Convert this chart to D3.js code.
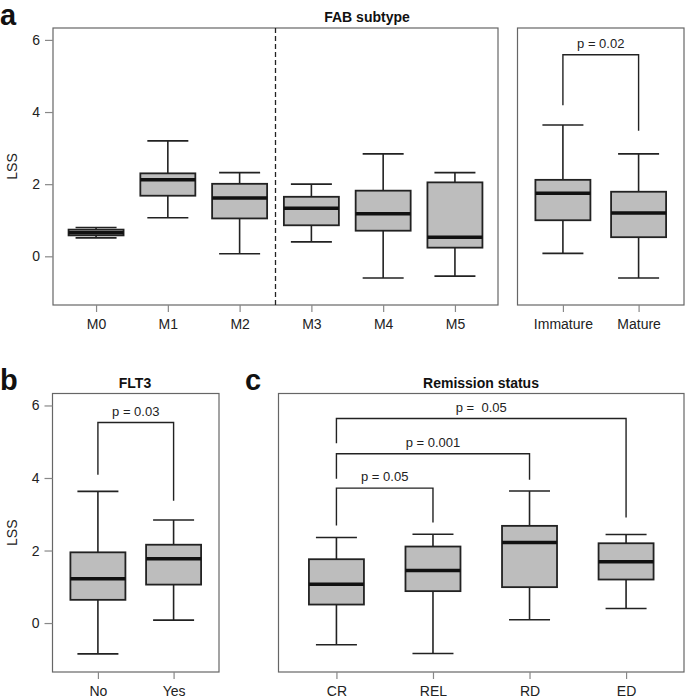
<!DOCTYPE html>
<html>
<head>
<meta charset="utf-8">
<script src="https://cdn.jsdelivr.net/npm/d3@7"></script>
<style>
  html, body { margin: 0; padding: 0; background: #fff; }
  svg { display: block; font-family: "Liberation Sans", Arial, Helvetica, sans-serif; }
</style>
</head>
<body>
<svg id="chart" width="685" height="699"></svg>
<script>
// ---------------- DATA ----------------
// Each box: [lowWhisker, q1, median, q3, highWhisker]
const fabCategories = ["M0", "M1", "M2", "M3", "M4", "M5"];
const fabStats = [
  [0.51, 0.58, 0.65, 0.74, 0.80],
  [1.07, 1.68, 2.12, 2.30, 3.20],
  [0.07, 1.05, 1.62, 2.01, 2.32],
  [0.40, 0.86, 1.33, 1.65, 2.00],
  [-0.60, 0.71, 1.18, 1.82, 2.84],
  [-0.55, 0.24, 0.53, 2.05, 2.32]
];
const maturityCategories = ["Immature", "Mature"];
const maturityStats = [
  [0.08, 1.00, 1.75, 2.12, 3.64],
  [-0.60, 0.53, 1.20, 1.79, 2.84]
];
const flt3Categories = ["No", "Yes"];
const flt3Stats = [
  [-0.85, 0.64, 1.22, 1.95, 3.63],
  [0.08, 1.06, 1.77, 2.16, 2.84]
];
const remissionCategories = ["CR", "REL", "RD", "ED"];
const remissionStats = [
  [-0.60, 0.51, 1.07, 1.76, 2.36],
  [-0.84, 0.88, 1.45, 2.11, 2.45],
  [0.09, 0.99, 2.22, 2.68, 3.64],
  [0.40, 1.20, 1.69, 2.20, 2.44]
];
// Brackets: [fromIndex, toIndex, barLevel, leftEnd, rightEnd, label]
const maturityBrackets = [[0, 1, 5.59, 4.19, 3.48, "p = 0.02"]];
const flt3Brackets = [[0, 1, 5.53, 4.09, 3.37, "p = 0.03"]];
const remissionBrackets = [
  [0, 1, 3.72, 2.69, 2.77, "p = 0.05"],
  [0, 2, 4.67, 3.98, 3.95, "p = 0.001"],
  [0, 3, 5.64, 4.96, 2.91, "p =  0.05"]
];
const yTicks = [0, 2, 4, 6];
const yDomain = [-1.35, 6.33];

// ---------------- DRAWING ----------------
const svg = d3.select("#chart");
const BOX_W = 55, CAP_W = 41;
const INK = "#222", FRAME = "#666", FILL = "#bdbdbd";

function panel(opts) {
  const { x0, x1, y0, y1, cats, stats, brackets, yAxis, divider } = opts;
  const n = cats.length;
  const x = d3.scaleLinear().domain([-0.6, n - 0.4]).range([x0, x1]);
  const y = d3.scaleLinear().domain(yDomain).range([y1, y0]);
  const g = svg.append("g");

  // frame
  g.append("rect").attr("x", x0).attr("y", y0).attr("width", x1 - x0).attr("height", y1 - y0)
    .attr("fill", "none").attr("stroke", FRAME).attr("stroke-width", 1.2);

  // x axis
  const xa = g.append("g").attr("transform", `translate(0,${y1})`)
    .call(d3.axisBottom(x).tickValues(d3.range(n)).tickFormat(i => cats[i]).tickSize(7).tickPadding(7));
  xa.select(".domain").remove();
  xa.selectAll(".tick line").attr("stroke", "#888").attr("stroke-width", 1.2);
  xa.selectAll(".tick text").attr("fill", "#222").style("font-size", "14px")
    .style("font-family", "'Liberation Sans', Arial, sans-serif");

  if (yAxis) {
    const ya = g.append("g").attr("transform", `translate(${x0},0)`)
      .call(d3.axisLeft(y).tickValues(yTicks).tickSize(8).tickPadding(5));
    ya.select(".domain").remove();
    ya.selectAll(".tick line").attr("stroke", "#888").attr("stroke-width", 1.2);
    ya.selectAll(".tick text").attr("fill", "#222").style("font-size", "14px")
      .style("font-family", "'Liberation Sans', Arial, sans-serif");
    g.append("text").attr("transform", `translate(17,${(y0 + y1) / 2}) rotate(-90)`)
      .attr("text-anchor", "middle").attr("fill", "#222").style("font-size", "14px").text("LSS");
  }

  if (divider !== undefined) {
    g.append("line").attr("x1", x(divider)).attr("x2", x(divider)).attr("y1", y0).attr("y2", y1)
      .attr("stroke", INK).attr("stroke-width", 1.3).attr("stroke-dasharray", "5,3");
  }

  // boxes
  stats.forEach((s, i) => {
    const cx = x(i);
    const [lo, q1, med, q3, hi] = s;
    const bg = g.append("g");
    bg.append("line").attr("x1", cx).attr("x2", cx).attr("y1", y(q3)).attr("y2", y(hi))
      .attr("stroke", INK).attr("stroke-width", 1.6);
    bg.append("line").attr("x1", cx).attr("x2", cx).attr("y1", y(q1)).attr("y2", y(lo))
      .attr("stroke", INK).attr("stroke-width", 1.6);
    [lo, hi].forEach(v => bg.append("line").attr("x1", cx - CAP_W / 2).attr("x2", cx + CAP_W / 2)
      .attr("y1", y(v)).attr("y2", y(v)).attr("stroke", INK).attr("stroke-width", 1.6));
    bg.append("rect").attr("x", cx - BOX_W / 2).attr("width", BOX_W)
      .attr("y", y(q3)).attr("height", y(q1) - y(q3))
      .attr("fill", FILL).attr("stroke", INK).attr("stroke-width", 1.8);
    bg.append("line").attr("x1", cx - BOX_W / 2).attr("x2", cx + BOX_W / 2)
      .attr("y1", y(med)).attr("y2", y(med)).attr("stroke", "#111").attr("stroke-width", 3.5);
  });

  // significance brackets
  (brackets || []).forEach(b => {
    const [a, c, top, le, re, label] = b;
    g.append("path")
      .attr("d", `M${x(a)},${y(le)}V${y(top)}H${x(c)}V${y(re)}`)
      .attr("fill", "none").attr("stroke", INK).attr("stroke-width", 1.4);
    g.append("text").attr("x", (x(a) + x(c)) / 2).attr("y", y(top) - 7)
      .attr("text-anchor", "middle").attr("fill", "#222").style("font-size", "13px")
      .style("white-space", "pre").attr("xml:space", "preserve").text(label);
  });
  return { x, y };
}

// Panel a (left & right)
panel({ x0: 53, x1: 498, y0: 28, y1: 305, cats: fabCategories, stats: fabStats, yAxis: true, divider: 2.5 });
panel({ x0: 517.5, x1: 684, y0: 28, y1: 305, cats: maturityCategories, stats: maturityStats, brackets: maturityBrackets });
// Panel b
panel({ x0: 52.5, x1: 219, y0: 393.5, y1: 672, cats: flt3Categories, stats: flt3Stats, brackets: flt3Brackets, yAxis: true });
// Panel c
panel({ x0: 278.5, x1: 684, y0: 393.5, y1: 672, cats: remissionCategories, stats: remissionStats, brackets: remissionBrackets });

// Titles
const titles = [
  { t: "FAB subtype", x: 367, y: 22 },
  { t: "FLT3", x: 135, y: 388 },
  { t: "Remission status", x: 481, y: 388 }
];
titles.forEach(d => svg.append("text").attr("x", d.x).attr("y", d.y).attr("text-anchor", "middle")
  .attr("fill", "#111").style("font-size", "14px").style("font-weight", "bold").text(d.t));

// Panel letters
const letters = [
  { t: "a", x: 0, y: 25 },
  { t: "b", x: 0, y: 390 },
  { t: "c", x: 245, y: 390 }
];
letters.forEach(d => svg.append("text").attr("x", d.x).attr("y", d.y)
  .attr("fill", "#111").style("font-size", "29px").style("font-weight", "bold").text(d.t));
</script>
</body>
</html>
